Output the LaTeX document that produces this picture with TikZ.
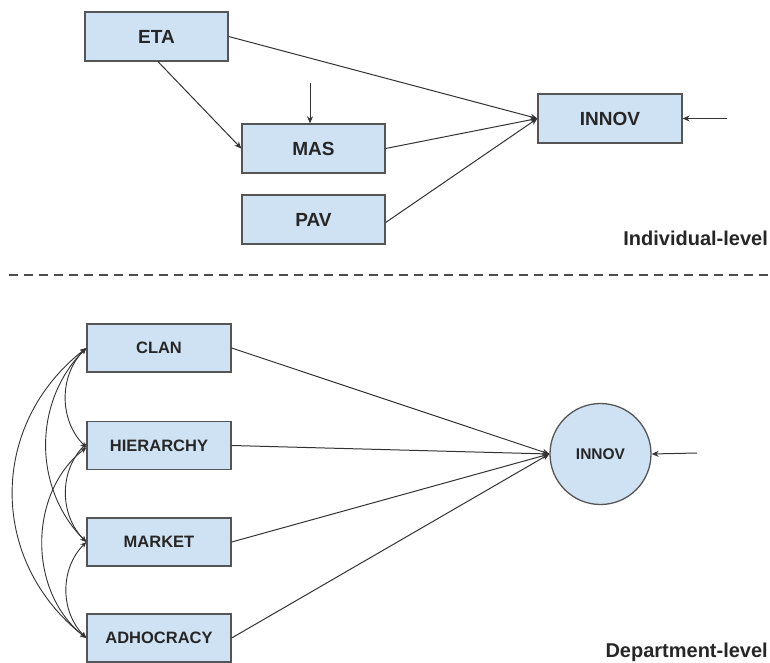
\documentclass[tikz,border=0pt]{standalone}
\usepackage{fontspec}
\setmainfont{Liberation Sans}
\usetikzlibrary{arrows.meta,shapes.geometric}
\definecolor{boxfill}{HTML}{CFE2F3}
\definecolor{boxline}{HTML}{555555}
\definecolor{lnk}{HTML}{333333}
\begin{document}
\begin{tikzpicture}[x=1pt,y=-1pt,
  topbox/.style={draw=boxline,line width=1.3pt,fill=boxfill,minimum width=143pt,minimum height=49pt,inner sep=0pt,font=\fontsize{19}{22}\selectfont\bfseries,text=black!85},
  botbox/.style={draw=boxline,line width=1.3pt,fill=boxfill,minimum width=144pt,minimum height=48pt,inner sep=0pt,font=\fontsize{16.5}{19}\selectfont\bfseries,text=black!85},
  lv/.style={font=\fontsize{20}{24}\selectfont\bfseries,text=black!85,inner sep=0pt,anchor=base east},
  arr/.style={draw=lnk,line width=1pt,-{Stealth[length=7pt,width=6pt]}},
  cov/.style={draw=lnk,line width=0.9pt,{Stealth[length=6pt,width=5pt]}-{Stealth[length=6pt,width=5pt]}}
]
\useasboundingbox (0,0) rectangle (770,663);
% top level
\node[topbox] (eta) at (156.5,36.5) {ETA};
\node[topbox] (mas) at (313.5,148.5) {MAS};
\node[topbox] (pav) at (313.5,219.5) {PAV};
\node[topbox,minimum width=144pt] (innov) at (610,118.5) {INNOV};
\coordinate (masin) at (310,83);
\coordinate (innovin) at (727,118.5);
\node[lv] (ind) at (768,245) {Individual-level};
\draw[arr] (eta.east) -- (innov.west);
\draw[arr] (mas.east) -- (innov.west);
\draw[arr] ([yshift=-3pt]pav.east) -- (innov.west);
\draw[arr] (eta.south) ++(1.5,0) coordinate (etas) (etas) -- (mas.west);
\draw[arr] (masin) -- (masin |- mas.north);
\draw[arr] (innovin) -- (innov.east);
% divider
\coordinate (dl) at (9,275);
\coordinate (dr) at (770,275);
\draw[draw=black!70,line width=2pt,dash pattern=on 9pt off 6pt] (dl) -- (dr);
% bottom level
\node[botbox] (clan) at (159,348) {CLAN};
\node[botbox] (hier) at (159,445.5) {HIERARCHY};
\node[botbox] (mark) at (159,542) {MARKET};
\node[botbox] (adho) at (159,638) {ADHOCRACY};
\node[circle,draw=boxline,line width=1.3pt,fill=boxfill,minimum size=101pt,inner sep=0pt,font=\fontsize{15.5}{18}\selectfont\bfseries,text=black!85] (cinn) at (600.5,454) {INNOV};
\coordinate (cinnin) at (697,453);
\node[lv] (dep) at (768,657) {Department-level};
\draw[arr] (clan.east) -- (cinn.west);
\draw[arr] (hier.east) -- (cinn.west);
\draw[arr] (mark.east) -- (cinn.west);
\draw[arr] (adho.east) -- (cinn.west);
\draw[arr] (cinnin) -- (cinn.east);
% covariances
\draw[cov] (clan.west) to[bend right=45] ([yshift=-2pt]hier.west);
\draw[cov] ([yshift=2pt]hier.west) to[bend right=45] (mark.west);
\draw[cov] (mark.west) to[bend right=45] (adho.west);
\draw[cov] (clan.west) to[bend right=45] (mark.west);
\draw[cov] ([yshift=-2pt]hier.west) to[bend right=52] (adho.west);
\draw[cov] (clan.west) to[bend right=52,looseness=1.1] (adho.west);
\end{tikzpicture}
\end{document}
